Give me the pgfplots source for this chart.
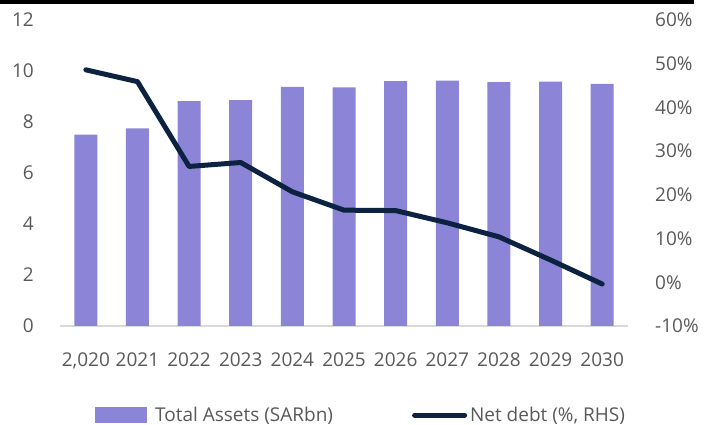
\documentclass[border=0pt]{standalone}
\usepackage{fontspec}
\setmainfont{Open Sans}
\usepackage{pgfplots}
\pgfplotsset{compat=1.18}
\definecolor{barcol}{HTML}{8B84D7}
\definecolor{navy}{HTML}{0D2240}
\definecolor{txt}{HTML}{595959}
\definecolor{axgray}{HTML}{D9D9D9}
\begin{document}
\begin{tikzpicture}
\path[use as bounding box] (0,0) rectangle (713pt,425pt);
\draw[black, line width=4pt] (0,423pt) -- (694pt,423pt);
\begin{axis}[
  at={(60pt,99pt)}, anchor=south west,
  scale only axis, width=568pt, height=306pt,
  xmin=-0.5, xmax=10.5, ymin=0, ymax=12,
  axis x line*=bottom, axis y line*=left,
  y axis line style={draw=none},
  x axis line style={draw=axgray, line width=1.5pt},
  major tick length=0pt,
  xtick={0,...,10},
  xticklabels={{2,020},2021,2022,2023,2024,2025,2026,2027,2028,2029,2030},
  ytick={0,2,...,12},
  /pgf/number format/assume math mode=true,
  tick label style={font=\fontsize{19}{22}\selectfont, text=txt, inner sep=0pt},
  xticklabel style={anchor=north, yshift=-27pt},
  yticklabel style={anchor=east, xshift=-26pt},
]
\addplot[ybar, bar width=23pt, fill=barcol, draw=none] coordinates {
(0,7.50) (1,7.75) (2,8.82) (3,8.86) (4,9.38) (5,9.36) (6,9.60) (7,9.62) (8,9.56) (9,9.58) (10,9.49)};
\end{axis}
\begin{axis}[
  at={(60pt,99pt)}, anchor=south west,
  scale only axis, width=568pt, height=306pt,
  xmin=-0.5, xmax=10.5, ymin=-10, ymax=60,
  axis x line=none, axis y line*=right,
  y axis line style={draw=none},
  major tick length=0pt,
  xtick=\empty,
  ytick={-10,0,...,60},
  yticklabel={\pgfmathprintnumber[assume math mode=true]{\tick}\%},
  tick label style={font=\fontsize{19}{22}\selectfont, text=txt, inner sep=0pt},
  yticklabel style={anchor=west, xshift=27pt},
  legend columns=2,
  legend style={at={(0.0616,-0.291)}, anchor=west, draw=none, fill=none,
    inner sep=0pt, font=\fontsize{19}{22}\selectfont, text=txt,
    /tikz/every even column/.append style={column sep=79pt},
    nodes={inner sep=0pt}},
  legend cell align=left,
]
\addlegendimage{legend image code/.code={\fill[barcol, draw=none] (0pt,-8pt) rectangle (52pt,8pt); \path[draw=none, fill=none] (0pt,0pt) -- (60pt,0pt);}}
\addlegendentry{Total Assets (SARbn)}
\addplot[navy, line width=5pt, line join=round, line cap=round,
  legend image code/.code={\draw[navy, line width=5pt, line cap=round] (2.5pt,0pt) -- (52.5pt,0pt); \path[draw=none, fill=none] (0pt,0pt) -- (58pt,0pt);}]
 coordinates {
(0,48.6) (1,45.9) (2,26.5) (3,27.4) (4,20.7) (5,16.5) (6,16.4) (7,13.6) (8,10.4) (9,5.1) (10,-0.4)};
\addlegendentry{Net debt (\%, RHS)}
\end{axis}
\end{tikzpicture}
\end{document}
